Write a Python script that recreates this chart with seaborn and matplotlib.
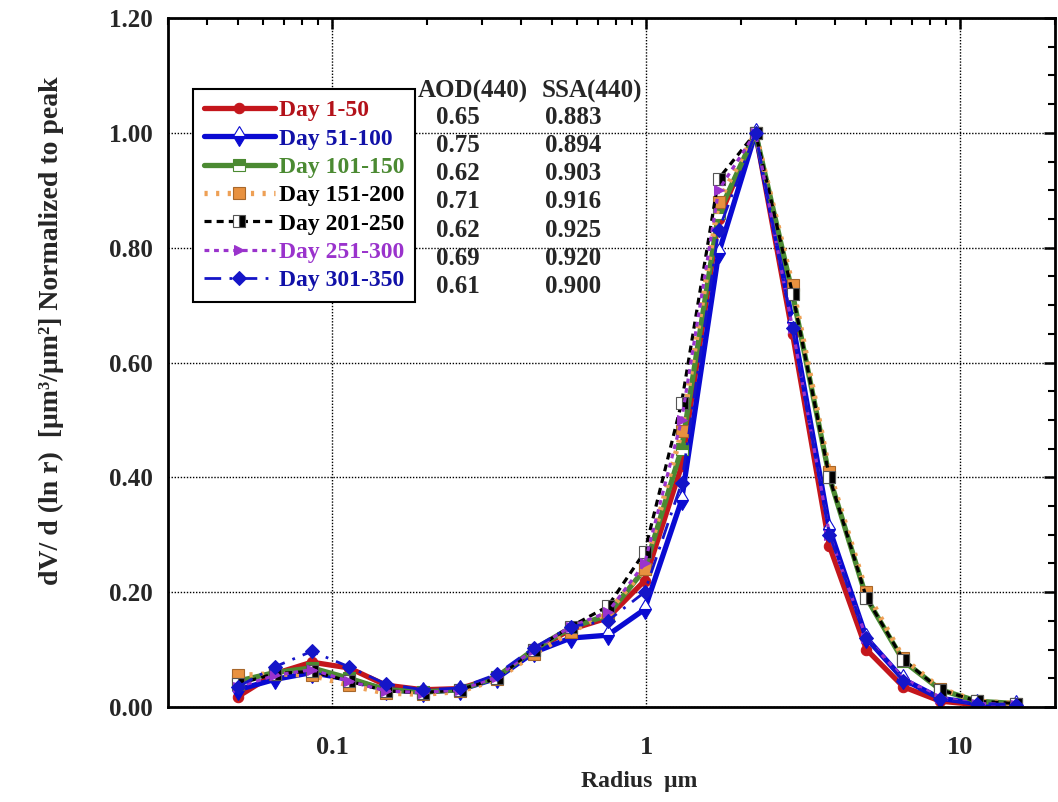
import numpy as np
import pandas as pd
import matplotlib
matplotlib.use("Agg")
import matplotlib.pyplot as plt
from matplotlib.ticker import MultipleLocator, FixedLocator, FixedFormatter, LogLocator, NullFormatter
import seaborn as sns

# ---------------- data ----------------
radius = [0.05, 0.0656, 0.086, 0.1129, 0.148, 0.1941, 0.2545, 0.3338, 0.4378, 0.5742,
          0.753, 0.9876, 1.2951, 1.6985, 2.2275, 2.9212, 3.831, 5.0242, 6.589, 8.6412,
          11.3325, 15.0]

day_1_50 = [0.018, 0.058, 0.078, 0.068, 0.038, 0.030, 0.032, 0.052, 0.098, 0.135, 0.155,
            0.22, 0.42, 0.85, 1.00, 0.65, 0.28, 0.10, 0.035, 0.010, 0.004, 0.003]
day_51_100 = [0.030, 0.048, 0.060, 0.048, 0.030, 0.026, 0.030, 0.050, 0.095, 0.120, 0.125,
              0.17, 0.36, 0.79, 1.00, 0.67, 0.31, 0.12, 0.048, 0.015, 0.006, 0.004]
day_101_150 = [0.045, 0.060, 0.068, 0.050, 0.030, 0.026, 0.030, 0.052, 0.100, 0.138, 0.160,
               0.24, 0.45, 0.86, 1.00, 0.72, 0.40, 0.19, 0.080, 0.030, 0.010, 0.006]
day_151_200 = [0.055, 0.058, 0.055, 0.038, 0.024, 0.022, 0.027, 0.048, 0.092, 0.130, 0.165,
               0.24, 0.48, 0.88, 1.00, 0.735, 0.41, 0.20, 0.085, 0.032, 0.010, 0.006]
day_201_250 = [0.040, 0.058, 0.062, 0.045, 0.028, 0.025, 0.030, 0.050, 0.100, 0.140, 0.175,
               0.27, 0.53, 0.92, 1.00, 0.72, 0.40, 0.19, 0.082, 0.030, 0.010, 0.006]
day_251_300 = [0.035, 0.055, 0.065, 0.045, 0.028, 0.025, 0.030, 0.052, 0.100, 0.140, 0.165,
               0.25, 0.50, 0.90, 1.00, 0.66, 0.30, 0.12, 0.050, 0.016, 0.006, 0.004]
day_301_350 = [0.035, 0.070, 0.097, 0.070, 0.040, 0.030, 0.033, 0.057, 0.103, 0.140, 0.150,
               0.20, 0.39, 0.83, 1.00, 0.66, 0.30, 0.12, 0.045, 0.013, 0.006, 0.004]

labels = ["Day 1-50", "Day 51-100", "Day 101-150", "Day 151-200",
          "Day 201-250", "Day 251-300", "Day 301-350"]
series = [day_1_50, day_51_100, day_101_150, day_151_200, day_201_250, day_251_300, day_301_350]

aod_440 = ["0.65", "0.75", "0.62", "0.71", "0.62", "0.69", "0.61"]
ssa_440 = ["0.883", "0.894", "0.903", "0.916", "0.925", "0.920", "0.900"]

x_ticks = [0.1, 1, 10]
x_tick_labels = ["0.1", "1", "10"]
y_ticks = [0.0, 0.2, 0.4, 0.6, 0.8, 1.0, 1.2]

# ---------------- style ----------------
sns.set_style("white")
plt.rcParams["font.family"] = ["Liberation Serif", "DejaVu Serif"]
plt.rcParams["font.weight"] = "bold"
plt.rcParams["axes.labelweight"] = "bold"

styles = [
    dict(color="#c4161c", linestyle="-", lw=3.8, marker="o", markersize=7.5,
         markerfacecolor="#c4161c", markeredgecolor="#c4161c"),
    dict(color="#0a0ad2", linestyle="-", lw=3.8, marker="d", markersize=10,
         fillstyle="bottom", markerfacecolor="#0a0ad2", markerfacecoloralt="white",
         markeredgecolor="#0a0ad2", markeredgewidth=0.8),
    dict(color="#4b8a32", linestyle="-", lw=3.8, marker="s", markersize=8.5,
         fillstyle="top", markerfacecolor="#4b8a32", markerfacecoloralt="white",
         markeredgecolor="#4b8a32", markeredgewidth=0.8),
    dict(color="#eea055", linestyle=(0, (0.6, 1.6)), lw=3.8, marker="s", markersize=8.5,
         markerfacecolor="#e8913f", markeredgecolor="#a8672a", markeredgewidth=0.8),
    dict(color="black", linestyle=(0, (2.2, 1.6)), lw=2.3, marker="s", markersize=8.5,
         fillstyle="right", markerfacecolor="black", markerfacecoloralt="white",
         markeredgecolor="#555555", markeredgewidth=0.8),
    dict(color="#9a33cc", linestyle=(0, (1.5, 1.5)), lw=2.3, marker=">", markersize=6.5,
         markerfacecolor="#9a33cc", markeredgecolor="#9a33cc"),
    dict(color="#1515c8", linestyle=(0, (6, 3, 1, 3)), lw=2.0, marker="D", markersize=7.5,
         markerfacecolor="#1515c8", markeredgecolor="#1515c8"),
]
text_colors = ["#b3121a", "#1111a8", "#4b8a32", "black", "black", "#9a33cc", "#1111a8"]

fig = plt.figure(figsize=(10.58, 8.02), dpi=100)
ax = fig.add_axes([0.159, 0.1185, 0.838, 0.859])

for lab, vals, st in zip(labels, series, styles):
    df = pd.DataFrame({"r": radius, "v": vals})
    sns.lineplot(data=df, x="r", y="v", ax=ax, label=lab, errorbar=None, **st)

ax.set_xscale("log")
ax.set_xlim(0.03, 20)
ax.set_ylim(0, 1.2)
ax.xaxis.set_major_locator(FixedLocator(x_ticks))
ax.xaxis.set_major_formatter(FixedFormatter(x_tick_labels))
ax.xaxis.set_minor_locator(LogLocator(base=10, subs=np.arange(2, 10)))
ax.xaxis.set_minor_formatter(NullFormatter())
ax.yaxis.set_major_locator(FixedLocator(y_ticks))
ax.yaxis.set_minor_locator(MultipleLocator(0.05))
ax.yaxis.set_major_formatter(matplotlib.ticker.FormatStrFormatter("%.2f"))

ax.grid(True, which="major", linestyle=(0, (1, 1.2)), color="black", lw=1.0)
ax.tick_params(which="both", direction="in", top=True, right=True, color="black")
ax.tick_params(axis="y", which="major", length=8, width=1.8, labelsize=18, pad=11)
ax.tick_params(axis="x", which="major", length=8, width=1.8, labelsize=19, pad=21)
ax.tick_params(which="minor", length=5, width=1.5)
for lbl in ax.get_xticklabels() + ax.get_yticklabels():
    lbl.set_fontweight("bold")
for sp in ax.spines.values():
    sp.set_linewidth(2.0)
    sp.set_color("black")

ax.set_xlabel("Radius  μm", fontsize=17, fontweight="bold")
ax.xaxis.set_label_coords((639 - 168) / 887.0, (707 - 771) / 689.0)
ax.set_ylabel("dV/ d (ln r)  [μm³/μm²] Normalized to peak", fontsize=20,
              fontweight="bold")
ax.yaxis.set_label_coords((64 - 168) / 887.0, (707 - 331) / 689.0)

leg = ax.legend(loc="upper left", bbox_to_anchor=(0.028, 0.897), frameon=True,
                fancybox=False, edgecolor="black", framealpha=1, fontsize=17,
                handlelength=3.0, handletextpad=0.2, labelspacing=0.29,
                borderpad=0.45, borderaxespad=0)
leg.get_frame().set_linewidth(1.5)
for t, c in zip(leg.get_texts(), text_colors):
    t.set_color(c)
    t.set_fontweight("bold")

# AOD / SSA table
def ax_xy(px, py):
    return ((px - 168) / 887.0, (707 - py) / 689.0)

hx, hy = ax_xy(473, 91)
ax.text(hx, hy, "AOD(440)", transform=ax.transAxes, ha="center", va="center",
        fontsize=18, fontweight="bold")
hx2, _ = ax_xy(592, 91)
ax.text(hx2, hy, "SSA(440)", transform=ax.transAxes, ha="center", va="center",
        fontsize=18, fontweight="bold")
row_y0 = 117
row_dy = 28.3
for i, (a, s) in enumerate(zip(aod_440, ssa_440)):
    x1, y1 = ax_xy(458, row_y0 + i * row_dy)
    x2, _ = ax_xy(573, row_y0 + i * row_dy)
    ax.text(x1, y1, a, transform=ax.transAxes, ha="center", va="center",
            fontsize=18, fontweight="bold")
    ax.text(x2, y1, s, transform=ax.transAxes, ha="center", va="center",
            fontsize=18, fontweight="bold")

fig.savefig("out.png", dpi=100)
